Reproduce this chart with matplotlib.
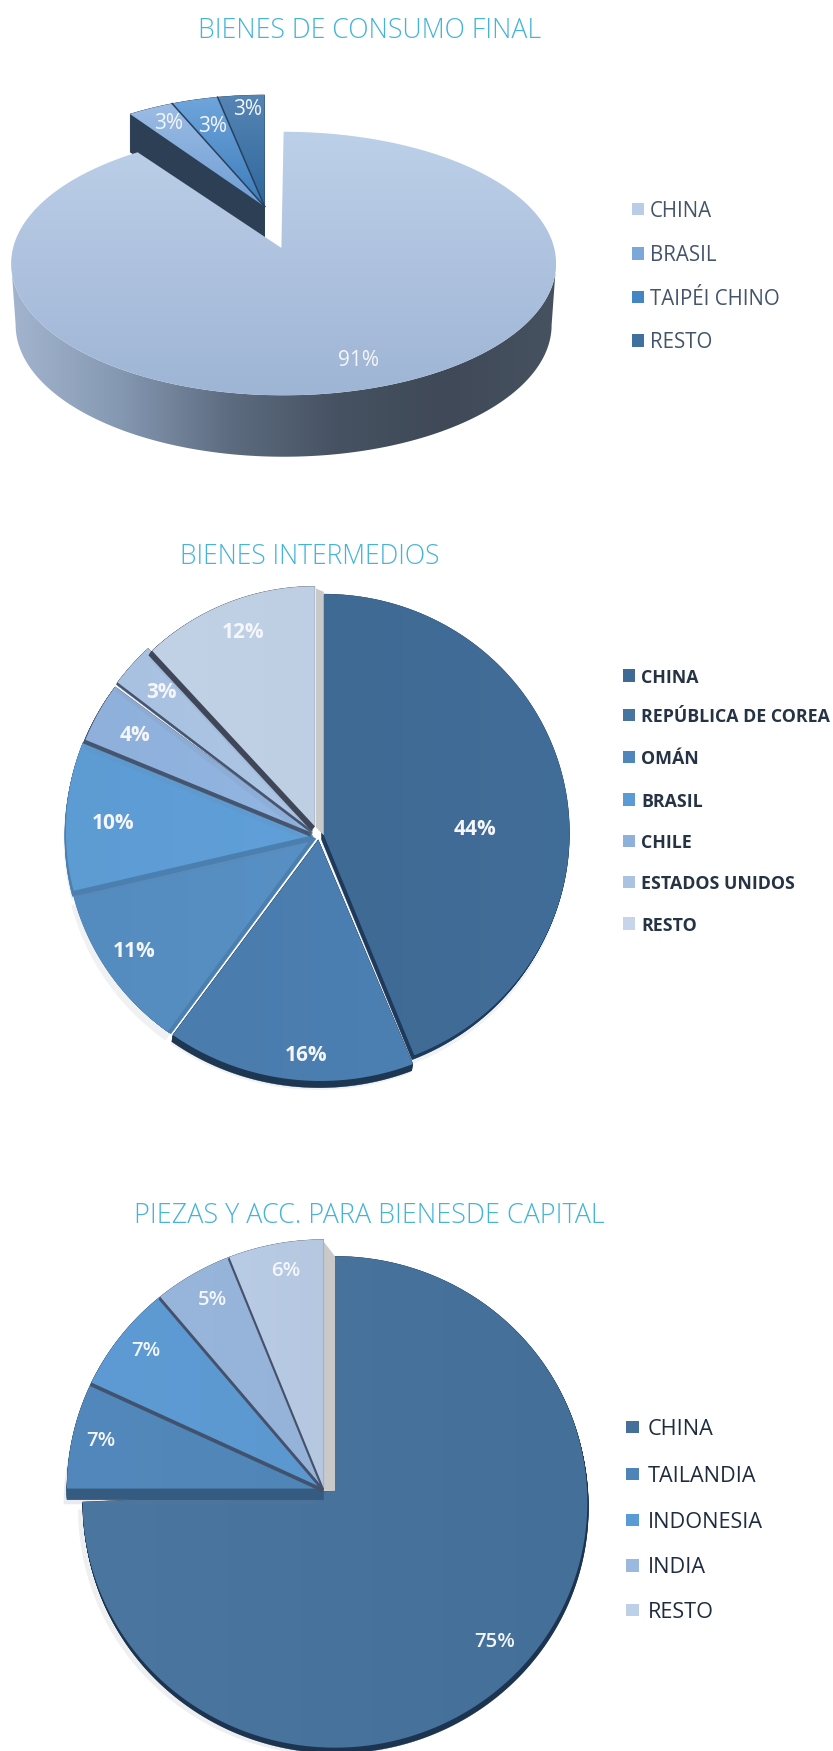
import numpy as np
import matplotlib
matplotlib.use("Agg")
import matplotlib.pyplot as plt
from matplotlib.colors import LinearSegmentedColormap
from matplotlib.patches import Polygon, Rectangle

# ---- data ----
TITLES = ["BIENES DE CONSUMO FINAL", "BIENES INTERMEDIOS", "PIEZAS Y ACC. PARA BIENESDE CAPITAL"]
CAT1 = ["CHINA", "BRASIL", "TAIPÉI CHINO", "RESTO"]
VAL1 = [91, 3, 3, 3]
CAT2 = ["CHINA", "REPÚBLICA DE COREA", "OMÁN", "BRASIL", "CHILE", "ESTADOS UNIDOS", "RESTO"]
VAL2 = [44, 16, 11, 10, 4, 3, 12]
CAT3 = ["CHINA", "TAILANDIA", "INDONESIA", "INDIA", "RESTO"]
VAL3 = [75, 7, 7, 5, 6]

# ---- style ----
COL1 = [("#bdd0e9", "#9fb5d5"), ("#9cbce4", "#6e9ed4"), ("#6fa5dc", "#3c7cba"), ("#5585b4", "#2f679c")]
LEG1 = ["#b9cde6", "#7ba7d9", "#4486c4", "#3f709f"]
COL2 = ["#3f6a94", "#4a7cad", "#558cbf", "#5d9bd3", "#8eb0db", "#a9c1e0", "#c1d2e7"]
COL3 = ["#44709a", "#5288bb", "#5e9bd4", "#98b6dc", "#b9cce5"]
TITLE_C = "#45b4d8"
TEXT_DY = 2

W, H = 746, 1568
fig = plt.figure(figsize=(8.33, 17.51), dpi=100)
ax = fig.add_axes([0, 0, 1, 1])
z = [1]


def nz():
    z[0] += 1
    return z[0]


def slice_poly(t0, t1, apex, c, rx, ry):
    th = np.radians(np.linspace(t0, t1, max(int(abs(t1 - t0)) * 2, 8)))
    xs = c[0] + rx * np.sin(th)
    ys = c[1] - ry * np.cos(th)
    return np.vstack([[apex], np.column_stack([xs, ys])])


def gradient(poly, stops, horizontal=False):
    x0, y0 = poly.min(axis=0)
    x1, y1 = poly.max(axis=0)
    cmap = LinearSegmentedColormap.from_list("g", stops)
    g = np.linspace(0, 1, 256)
    g = g[None, :] if horizontal else g[:, None]
    im = ax.imshow(g, extent=(x0, x1, y1, y0), cmap=cmap, aspect="auto", zorder=nz(),
                   interpolation="bilinear")
    p = Polygon(poly, closed=True, transform=ax.transData)
    im.set_clip_path(p)


def flat(poly, color, alpha=1.0):
    ax.add_patch(Polygon(poly, closed=True, fc=color, ec="none", alpha=alpha, zorder=nz()))


def extrude(poly, dx, dy, color):
    zz = nz()
    for k in np.linspace(0, 1, max(int(max(abs(dx), abs(dy))) * 2, 4)):
        ax.add_patch(Polygon(poly + [dx * k, dy * k], closed=True, fc=color, ec=color, lw=0.3, zorder=zz))


def angles(vals):
    e = np.cumsum([0] + list(vals)) * 3.6
    return e[:-1], e[1:]


def legend(cats, colors, ys, xm, xt, size, tc, weight="normal", family="Open Sans"):
    for c, col, y in zip(cats, colors, ys):
        ax.add_patch(Rectangle((xm, y - 5.5), 11, 11, fc=col, ec="none", zorder=nz()))
        ax.text(xt, y + TEXT_DY, c, va="center", ha="left", fontsize=size, color=tc, weight=weight,
                family=family, zorder=nz())


def labels(vals, xs, ys, size, weight):
    for v, x, y in zip(vals, xs, ys):
        ax.text(x, y + TEXT_DY, f"{v}%", ha="center", va="center", fontsize=size, color="#f4f6fa",
                weight=weight, family="Open Sans", zorder=500)


# ---- pie 1 ----
a0, a1 = angles(VAL1)
C, RX, RY = (254, 236), 244, 118
th = np.radians(np.linspace(90, 270, 200))
top_arc = np.column_stack([C[0] + RX * np.sin(th), C[1] - RY * np.cos(th)])
bot_arc = np.column_stack([C[0] + (RX - 4) * np.sin(th), C[1] + 55 - RY * np.cos(th)])
wall = np.vstack([top_arc, bot_arc[::-1]])
gradient(wall, ["#a3b5ce", "#8598b2", "#5d6c80", "#465262", "#3f4957", "#475261"], horizontal=True)
for i in [1, 2, 3]:
    p = slice_poly(a0[i], a1[i], (237, 185), (237, 195), 225, 110)
    extrude(p, 0, 34, "#2c3f55")
for i in [1, 2, 3]:
    p = slice_poly(a0[i], a1[i], (237, 185), (237, 195), 225, 110)
    gradient(p, list(COL1[i]))
    if i > 1:
        ax.plot(p[[0, 1], 0], p[[0, 1], 1], color="#27405f", lw=1.1, zorder=nz())
p = slice_poly(a0[0], a1[0], (252, 222), C, RX, RY)
gradient(p, list(COL1[0]))
labels(VAL1, [321, 151, 190, 222], [321, 109, 111, 96], 15, "normal")
legend(CAT1, LEG1, [187, 227, 266, 305], 566, 582, 14.8, "#44546a")

# ---- pie 2 ----
a0, a1 = angles(VAL2)
apex2 = [(290, 748), (285, 752), (280, 749), (280, 748), (280, 746), (280, 744), (282, 740)]
cent2 = [(290, 746), (287, 752), (280, 749), (280, 744), (282, 742), (284, 738), (282, 738)]
radii2 = [(220, 214), (225, 216), (221, 216), (221, 216), (221, 216), (221, 216), (213, 213)]
wall2 = ["#1d3a5c", "#1d3652", "#4a7fb0", "#4a7fb0", "#45556f", "#45556f", "#3e4657"]
shift2 = [(-2, 4), (-1, 6), (3, 2), (-1, 5), (-2, 3), (-1, 2), (-3, 4)]
for i in [1, 0, 2, 3, 4, 5, 6]:
    rx, ry = radii2[i]
    p = slice_poly(a0[i], a1[i], apex2[i], cent2[i], rx, ry)
    flat(p + [-2, 8], "#6f7f90", 0.10)
    if i == 6:
        strip = np.array([[283, 527], [290, 530], [290, 748], [283, 741]], float)
        flat(strip, "#c9c9c9")
    extrude(p, shift2[i][0], shift2[i][1], wall2[i])
    rgb = np.array(matplotlib.colors.to_rgb(COL2[i]))
    gain = 1.03 if i != 6 else 0.985
    gradient(p, [COL2[i], tuple(np.clip(rgb * gain, 0, 1))], horizontal=True)
labels(VAL2, [425, 274, 120, 101, 121, 145, 218], [741, 943, 850, 735, 657, 618, 564], 15, "bold")
legend(CAT2, [COL2[0], "#47759f", "#4f86bb", "#5b9bd5", "#8eb0db", "#abc3e2", "#c6d5ea"],
       [605, 640, 678, 716, 753, 790, 827], 558, 574, 12.8, "#263345", "bold")

# ---- pie 3 ----
a0, a1 = angles(VAL3)
C3, RX3, RY3 = (300, 1345), 226, 220
p = slice_poly(a0[0], a1[0], (300, 1335), C3, RX3, RY3)
flat(p + [-4, 7], "#6f7f90", 0.12)
extrude(p, 1, 5, "#1c3450")
gradient(p, ["#4a76a0", "#436f98"], horizontal=True)
flat(np.array([[290, 1112], [300, 1125], [300, 1335], [290, 1335]], float), "#c9c9c9")
wall3 = ["#365b80", "#40526e", "#45506a", "#45506a"]
shift3 = [(0, 10), (-1, 3), (-1, 2.5), (-1, 2)]
for i in [1, 2, 3, 4]:
    p = slice_poly(a0[i], a1[i], (290, 1333), (290, 1333), 230, 223)
    if i == 1:
        flat(p + [-3, 14], "#6f7f90", 0.15)
    extrude(p, shift3[i - 1][0], shift3[i - 1][1], wall3[i - 1])
    rgb = np.array(matplotlib.colors.to_rgb(COL3[i]))
    gradient(p, [COL3[i], tuple(np.clip(rgb * 0.98, 0, 1))], horizontal=True)
labels(VAL3, [443, 90, 131, 190, 256], [1468, 1288, 1208, 1162, 1136], 14.7, "semibold")
legend(CAT3, ["#44709a", "#4f84b8", "#5b9bd5", "#9bb9de", "#bdd0e8"], [1278, 1320, 1361, 1402, 1442],
       561, 580, 15.6, "#1f2c3f")

# ---- titles ----
for t, x, y, s in zip(TITLES, [331, 277, 331], [26, 497, 1087], [19.2, 19.1, 19.4]):
    ax.text(x, y + TEXT_DY, t, ha="center", va="center", fontsize=s, color=TITLE_C, weight="light",
            family="Open Sans", zorder=nz())

ax.set_xlim(0, W)
ax.set_ylim(H, 0)
ax.axis("off")
fig.savefig("out.png", dpi=100, facecolor="white")
